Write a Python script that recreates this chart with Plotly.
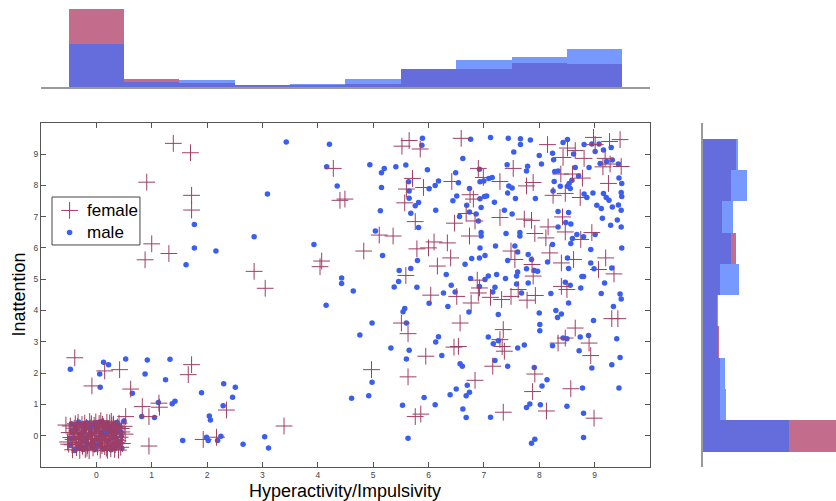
import plotly.graph_objects as go

# ---------------- data ----------------
female_x = [1.39, 1.70, 0.91, 1.72, 1.72, 1.00, 0.88, 1.31, 2.85, 3.05, 4.07, 4.04,
            -0.39, -0.08, 0.15, 0.42, 0.62, 1.66, 1.72, 0.83, 0.95, 1.14, 1.13, 0.95, 0.53, 2.35, 1.93, 2.17, 3.39,
            4.28, 4.40, 4.49,
            5.65, 5.52, 5.85, 6.59, 6.90, 6.99, 5.71, 5.60, 5.91, 6.42, 5.57, 6.75, 6.81, 6.68, 6.47, 6.84, 5.76, 5.11, 5.36, 6.74,
            8.15, 8.51, 8.65, 8.98, 9.01, 9.27, 9.46, 8.43, 8.81, 9.19, 9.15, 9.28, 9.48, 7.53, 7.29, 7.77, 7.89, 8.39, 8.60, 8.78,
            8.25, 8.47, 8.74, 9.25, 7.29, 7.73, 7.86, 8.42, 8.16, 8.47, 7.92, 8.95,
            4.83, 5.79, 6.00, 6.10, 6.34, 6.40, 6.16, 5.59, 6.88, 6.92, 6.90, 6.51, 6.04, 6.77, 7.12, 6.57, 5.51, 5.63, 6.46, 6.54,
            8.12, 8.75, 7.49, 7.56, 7.87, 8.19, 8.40, 8.62, 9.20, 9.07, 9.35, 7.89, 7.62, 7.49, 7.32, 7.78, 7.93, 8.40, 8.50,
            7.35, 7.29, 7.33, 8.65, 8.47, 8.34, 8.90, 9.31, 9.42,
            4.97, 5.95, 5.63, 7.16, 7.37, 6.84, 7.92, 7.88, 8.57, 8.93, 8.99, 8.13, 7.35, 5.76, 5.86]
female_y = [9.34, 9.04, 8.10, 7.68, 7.21, 6.13, 5.62, 5.82, 5.25, 4.71, 5.58, 5.40,
            2.49, 1.59, 2.07, 2.11, 1.49, 1.95, 2.27, 0.93, 0.61, 0.91, 1.04, -0.33, 0.61, 0.82, -0.12, -0.05, 0.31,
            8.54, 7.52, 7.56,
            9.43, 9.25, 9.16, 9.50, 8.54, 8.25, 8.22, 7.88, 7.93, 8.12, 7.44, 7.70, 7.56, 7.10, 6.79, 6.86, 6.84, 6.41, 6.38, 6.38,
            9.30, 9.19, 9.11, 9.53, 9.30, 9.40, 9.46, 8.89, 8.86, 8.86, 8.59, 8.68, 8.60, 8.54, 8.12, 7.98, 8.09, 8.36, 8.36, 8.23,
            7.68, 7.74, 7.61, 8.06, 6.97, 6.92, 6.88, 6.99, 6.67, 6.51, 6.46, 6.49,
            5.90, 5.97, 6.00, 6.19, 6.16, 5.68, 5.42, 5.12, 4.97, 4.72, 4.56, 4.45, 4.49, 4.24, 4.42, 3.60, 3.60, 3.26, 2.83, 2.85,
            6.32, 6.27, 5.90, 5.63, 5.47, 5.84, 5.52, 5.63, 5.68, 5.31, 5.17, 5.10, 4.67, 4.45, 4.35, 4.33, 4.48, 4.77, 4.67,
            3.39, 3.07, 2.85, 3.44, 3.12, 2.96, 2.96, 3.74, 3.74,
            2.11, 2.54, 1.88, 2.22, 2.70, 1.77, 1.97, 1.41, 1.50, 2.56, 0.56, 0.79, 0.75, 0.61, 0.69]

female_cluster_x = [-0.47, -0.42, -0.39, -0.36, -0.33, -0.31, -0.28, -0.26, -0.24, -0.22,
                    -0.20, -0.18, -0.16, -0.14, -0.12, -0.10, -0.08, -0.06, -0.04, -0.02,
                    0.00, 0.03, 0.05, 0.07, 0.09, 0.11, 0.13, 0.15, 0.17, 0.19,
                    0.21, 0.23, 0.26, 0.28, 0.30, 0.32, 0.34, 0.37, 0.39, 0.41,
                    0.44, 0.46, -0.44, -0.40, -0.37, -0.30, -0.27, -0.21, -0.15, -0.11,
                    -0.07, -0.01, 0.04, 0.10, 0.16, 0.22, 0.27, 0.33, 0.38, 0.43,
                    -0.49, -0.43, -0.34, -0.25, -0.19, -0.09, -0.03, 0.06, 0.12, 0.20,
                    0.25, 0.31, 0.36, 0.47, -0.52, 0.50, -0.13, 0.08, -0.35, 0.18,
                    -0.46, -0.32, -0.23, -0.17, -0.04, 0.02, 0.11, 0.19, 0.29, 0.40,
                    0.45, -0.38, -0.29, -0.10, 0.07, 0.24, 0.35, -0.55, -0.50, 0.52]
female_cluster_y = [0.31, -0.12, 0.05, -0.38, 0.42, 0.18, -0.22, 0.36, -0.05, 0.11,
                    -0.44, 0.27, -0.31, 0.02, 0.45, -0.17, 0.20, -0.39, 0.33, -0.08,
                    0.14, -0.26, 0.39, -0.46, 0.07, -0.14, 0.29, -0.35, 0.01, 0.43,
                    -0.21, 0.16, -0.42, 0.34, -0.03, 0.22, -0.29, 0.09, -0.16, 0.40,
                    -0.37, 0.12, -0.29, 0.24, -0.02, -0.47, 0.07, 0.40, -0.23, 0.25,
                    -0.12, 0.44, 0.05, -0.32, 0.18, -0.09, 0.46, -0.44, 0.28, -0.05,
                    0.10, -0.45, 0.29, -0.34, 0.08, 0.38, -0.27, 0.24, -0.02, -0.47,
                    0.05, 0.37, -0.22, -0.25, -0.20, 0.30, -0.48, 0.48, 0.15, -0.40,
                    -0.06, -0.14, 0.21, -0.40, 0.08, -0.36, 0.36, -0.27, 0.14, -0.46,
                    0.23, 0.38, -0.09, -0.01, -0.15, 0.41, -0.12, 0.34, -0.27, 0.05]

male_x = [3.43, 4.21, 4.16, 3.09, 1.77, 1.77, 1.62, 2.16, 2.85, 3.93, 4.15,
          -0.47, 0.13, 0.22, 0.06, 0.07, 0.53, 0.92, 1.33, 0.88, 1.25, 0.65, 1.12, 1.37, 1.42, 0.82, 1.05,
          1.90, 2.30, 2.51, 2.46, 2.29, 2.04, 2.06, 1.56, 1.99, 2.02, 2.19, 2.25, 2.65, 3.04, 3.11, 0.50,
          4.35,
          5.89, 5.88, 6.76, 7.12, 6.62, 4.94, 5.20, 5.15, 5.41, 5.59, 5.98, 6.49, 6.92, 5.64, 6.18, 6.12,
          6.01, 6.54, 5.15, 5.65, 5.65, 6.93, 7.00, 7.09, 7.15, 6.74, 6.51, 6.44, 5.82, 5.76, 6.93, 7.01,
          7.05, 7.19, 6.69, 6.95, 5.13, 5.68, 6.13, 6.56, 6.74, 6.86, 6.90, 5.04, 5.82, 6.95, 6.95,
          7.44, 7.66, 7.66, 7.84, 7.54, 8.43, 8.51, 8.81, 8.95, 9.08, 9.16, 9.30, 8.00, 8.24, 8.26, 8.62,
          9.01, 9.10, 9.22, 9.32, 9.43, 7.42, 7.79, 8.04, 8.65, 8.90, 7.77, 8.28, 8.34, 8.71, 9.44, 9.49,
          8.27, 8.59, 8.54, 8.51, 8.38, 7.45, 7.51, 7.43, 7.57, 7.93, 8.25, 8.56, 8.81, 8.86, 8.97, 9.16,
          9.21, 9.26, 9.48, 9.49, 9.04, 9.12, 9.32, 9.43, 9.48, 7.37, 7.51, 8.34, 8.53, 9.14, 9.41, 9.29,
          9.48, 8.48, 8.57, 8.34, 7.40, 7.65, 7.65, 8.68, 8.80, 9.01,
          5.17, 5.80, 5.68, 5.47, 5.46, 5.38, 5.79, 4.43, 4.43, 4.64, 6.32, 6.41, 6.48, 6.27, 6.01, 6.35,
          6.93, 7.21, 6.78, 6.92, 7.02, 6.66, 6.76, 7.02, 7.08, 7.23, 7.20, 7.16, 6.92, 6.73, 7.26, 5.57,
          5.54, 5.60, 4.98, 4.76, 6.18, 6.13, 7.08, 7.17, 7.26, 5.32,
          8.60, 8.57, 8.24, 8.93, 9.49, 7.56, 7.61, 7.80, 7.86, 7.43, 8.15, 8.51, 8.53, 8.93, 8.99, 9.31,
          7.77, 7.91, 7.97, 7.61, 7.59, 7.39, 7.80, 7.59, 8.77, 8.80, 8.75, 9.18, 8.47, 8.56, 7.68, 8.21,
          9.12, 9.46, 9.48, 8.53, 9.34, 8.00, 8.30, 8.40, 8.33, 8.98, 8.01, 8.01, 8.74, 8.89, 8.43, 8.50,
          9.40, 7.73, 8.24, 7.61,
          5.65, 5.60, 6.24, 6.57, 6.61, 7.20, 7.43, 8.72, 7.91, 8.95, 9.31, 9.46, 4.98, 4.61, 4.92, 5.53,
          5.92, 6.12, 6.39, 6.50, 6.70, 6.74, 6.68, 6.62, 6.68, 7.12, 8.05, 8.14, 7.77, 7.83, 8.02, 8.50,
          8.78, 8.80, 9.44, 5.63, 7.86, 7.92, 8.80]
male_y = [9.38, 9.31, 8.59, 7.72, 6.75, 6.00, 5.46, 5.90, 6.36, 6.11, 4.17,
          2.12, 2.35, 2.27, 1.97, 1.55, 2.45, 2.42, 2.44, 1.97, 1.79, 1.36, 1.06, 1.02, 1.10, 0.61, 0.58,
          1.37, 1.66, 1.55, 1.23, 0.96, 0.63, 0.50, -0.15, -0.05, -0.15, -0.15, -0.02, -0.27, -0.03, -0.39, 0.47,
          7.98,
          9.50, 9.28, 9.47, 9.53, 8.86, 8.66, 8.54, 8.40, 8.59, 8.65, 8.50, 8.40, 8.51, 8.11, 8.14, 7.99,
          7.89, 8.08, 7.93, 7.82, 7.59, 8.11, 8.14, 8.22, 8.25, 7.90, 7.66, 7.51, 7.45, 7.35, 7.57, 7.64,
          7.66, 7.46, 7.36, 7.29, 7.19, 7.11, 7.20, 7.00, 7.15, 7.08, 6.86, 6.54, 6.65, 6.49, 6.38,
          9.50, 9.49, 9.30, 9.45, 9.06, 9.37, 9.46, 9.30, 9.32, 9.32, 9.13, 9.21, 8.95, 9.02, 8.82, 9.00,
          9.08, 8.70, 8.76, 8.81, 8.68, 8.66, 8.61, 8.68, 8.57, 8.57, 8.46, 8.44, 8.46, 8.30, 8.23, 8.06,
          8.12, 8.16, 8.06, 7.97, 7.97, 7.98, 7.91, 7.75, 7.58, 7.58, 7.82, 7.90, 7.72, 7.61, 7.75, 7.74,
          7.61, 7.52, 7.77, 7.64, 7.36, 7.26, 7.31, 7.37, 7.20, 7.20, 7.08, 7.16, 7.13, 6.95, 6.89, 6.72,
          6.67, 6.81, 6.76, 6.67, 6.46, 6.49, 6.38, 6.43, 6.36, 6.43,
          5.76, 5.60, 5.34, 5.28, 4.93, 4.75, 4.74, 5.04, 4.86, 4.62, 5.15, 4.81, 4.59, 4.56, 4.23, 4.13,
          6.00, 6.06, 5.66, 5.68, 5.76, 5.48, 5.02, 4.99, 5.10, 5.15, 4.74, 4.59, 4.77, 3.95, 3.87, 4.06,
          3.96, 3.60, 3.60, 3.22, 3.16, 2.99, 3.15, 2.94, 3.03, 2.80,
          6.30, 6.14, 6.11, 5.95, 6.00, 6.06, 5.87, 5.79, 5.63, 5.60, 5.55, 5.68, 5.34, 5.52, 5.33, 5.36,
          5.33, 5.28, 5.25, 5.23, 5.10, 5.02, 4.88, 4.85, 5.09, 5.09, 4.72, 4.88, 4.90, 4.81, 4.56, 4.54,
          4.54, 4.53, 4.37, 4.24, 4.13, 3.92, 4.00, 3.89, 3.78, 3.68, 3.55, 3.35, 3.15, 3.20, 3.12, 3.10,
          3.10, 2.90, 2.87, 2.80,
          2.73, 2.45, 2.56, 2.30, 2.22, 2.40, 2.22, 2.71, 2.18, 2.16, 2.27, 2.50, 1.71, 1.20, 1.28, 0.97,
          1.22, 0.99, 1.31, 1.49, 1.61, 1.39, 1.28, 0.85, 0.58, 0.59, 1.59, 1.79, 0.90, 1.01, 0.99, 0.94,
          1.52, 0.72, 1.52, -0.08, -0.24, -0.11, -0.06]

male_cluster_x = [-0.45, -0.41, -0.37, -0.34, -0.30, -0.27, -0.25, -0.23, -0.20, -0.17,
                  -0.15, -0.13, -0.10, -0.08, -0.05, -0.03, 0.00, 0.02, 0.04, 0.07,
                  0.09, 0.11, 0.14, 0.16, 0.18, 0.20, 0.22, 0.25, 0.27, 0.29,
                  0.31, 0.34, 0.36, 0.38, 0.41, 0.43, 0.45, -0.47, -0.43, -0.39,
                  -0.32, -0.28, -0.22, -0.18, -0.12, -0.07, -0.01, 0.05, 0.10, 0.15,
                  0.21, 0.26, 0.32, 0.37, 0.42, -0.44, -0.35, -0.26, -0.16, -0.06,
                  0.03, 0.12, 0.23, 0.33, 0.44, -0.48, -0.38, -0.24, -0.11, 0.06,
                  0.17, 0.28, 0.39, 0.46, -0.29, 0.01, 0.13, -0.19, 0.35, -0.02]
male_cluster_y = [0.38, -0.08, 0.20, -0.41, 0.03, 0.32, -0.19, 0.12, -0.36, 0.41,
                  -0.02, 0.24, -0.27, 0.06, 0.35, -0.44, 0.17, -0.13, 0.43, -0.30,
                  0.10, -0.06, 0.31, -0.39, 0.04, 0.38, -0.18, 0.21, -0.45, 0.08,
                  -0.25, 0.33, -0.10, 0.15, -0.33, 0.27, -0.02, -0.28, 0.09, -0.47,
                  0.44, -0.12, 0.28, -0.23, 0.01, -0.38, 0.29, -0.21, 0.45, -0.11,
                  0.14, -0.34, 0.02, 0.42, -0.19, 0.18, -0.26, 0.05, 0.37, -0.15,
                  0.25, -0.43, 0.30, -0.38, 0.12, -0.10, 0.30, -0.44, 0.16, -0.03,
                  0.22, -0.07, 0.36, -0.40, -0.33, 0.40, 0.07, -0.08, 0.19, -0.30]

# marginal histograms (probability per unit-width bin, bins centred on 0..9)
bin_centers = [0, 1, 2, 3, 4, 5, 6, 7, 8, 9]
hist_x_female = [0.433, 0.043, 0.024, 0.009, 0.013, 0.019, 0.099, 0.099, 0.132, 0.129]
hist_x_male = [0.241, 0.030, 0.037, 0.009, 0.019, 0.043, 0.098, 0.148, 0.165, 0.210]
hist_y_female = [0.421, 0.050, 0.050, 0.048, 0.042, 0.052, 0.098, 0.057, 0.083, 0.099]
hist_y_male = [0.259, 0.068, 0.065, 0.045, 0.046, 0.107, 0.083, 0.090, 0.132, 0.105]

tick_vals = [0, 1, 2, 3, 4, 5, 6, 7, 8, 9]
tick_text = ["0", "1", "2", "3", "4", "5", "6", "7", "8", "9"]

legend_labels = ["female", "male"]

# ---------------- styles ----------------
FONT = "Arial, 'Liberation Sans', sans-serif"
FEMALE_MARK = "rgb(158,62,100)"
MALE_MARK = "rgb(58,95,240)"
FEMALE_BAR = "rgb(196,108,140)"
MALE_BAR = "rgba(61,109,255,0.7)"
FEMALE_MARKER = dict(symbol="cross-thin-open", size=12, color=FEMALE_MARK, line=dict(width=1, color=FEMALE_MARK))
MALE_MARKER = dict(symbol="circle", size=5.5, color=MALE_MARK, line=dict(width=0))

fig = go.Figure()

# scatter
fig.add_trace(go.Scatter(x=male_cluster_x + male_x, y=male_cluster_y + male_y, mode="markers",
                         name=legend_labels[1], marker=MALE_MARKER, showlegend=False, xaxis="x", yaxis="y"))
fig.add_trace(go.Scatter(x=female_cluster_x + female_x, y=female_cluster_y + female_y, mode="markers",
                         name=legend_labels[0], marker=FEMALE_MARKER, showlegend=False, xaxis="x", yaxis="y"))

# top histogram
fig.add_trace(go.Bar(x=bin_centers, y=hist_x_female, width=1, marker=dict(color=FEMALE_BAR, line=dict(width=0)),
                     showlegend=False, xaxis="x2", yaxis="y2"))
fig.add_trace(go.Bar(x=bin_centers, y=hist_x_male, width=1, marker=dict(color=MALE_BAR, line=dict(width=0)),
                     showlegend=False, xaxis="x2", yaxis="y2"))
# right histogram
fig.add_trace(go.Bar(y=bin_centers, x=hist_y_female, width=1, orientation="h",
                     marker=dict(color=FEMALE_BAR, line=dict(width=0)),
                     showlegend=False, xaxis="x3", yaxis="y3"))
fig.add_trace(go.Bar(y=bin_centers, x=hist_y_male, width=1, orientation="h",
                     marker=dict(color=MALE_BAR, line=dict(width=0)),
                     showlegend=False, xaxis="x3", yaxis="y3"))

# legend box (its own small axes): key symbols + labels
LEG_X_DOM = [0.01384, 0.1245]
LEG_Y_DOM = [0.4837, 0.5882]
fig.add_trace(go.Scatter(x=[0.2], y=[0.72], mode="markers", marker=FEMALE_MARKER, showlegend=False,
                         hoverinfo="skip", xaxis="x4", yaxis="y4"))
fig.add_trace(go.Scatter(x=[0.2], y=[0.26], mode="markers", marker=MALE_MARKER, showlegend=False,
                         hoverinfo="skip", xaxis="x4", yaxis="y4"))

main_ax = dict(range=[-1, 10], tickvals=tick_vals, ticktext=tick_text, ticks="inside", ticklen=5,
               tickcolor="#555", showline=True, linecolor="#555", linewidth=1, mirror="ticks",
               showgrid=False, zeroline=False, tickfont=dict(size=8.5, color="#444", family=FONT))

MAIN_X_DOM = [0, 0.766]
MAIN_Y_DOM = [0, 0.7501]

fig.update_layout(
    width=836, height=501,
    margin=dict(l=41, r=0, t=8, b=34),
    paper_bgcolor="white", plot_bgcolor="white",
    barmode="overlay", bargap=0,
    font=dict(family=FONT, color="black"),
    showlegend=False,
    xaxis=dict(domain=MAIN_X_DOM, anchor="y", **main_ax),
    yaxis=dict(domain=MAIN_Y_DOM, anchor="x", **main_ax),
    xaxis2=dict(domain=MAIN_X_DOM, anchor="y2", range=[-1, 10], showline=True, linecolor="#9a9a9a",
                linewidth=1.5, ticks="", showticklabels=False, showgrid=False, zeroline=False),
    yaxis2=dict(domain=[0.828, 1.0], anchor="x2", range=[0, 0.44], visible=False),
    xaxis3=dict(domain=[0.8323, 1.0], anchor="y3", range=[0, 0.40], visible=False),
    yaxis3=dict(domain=MAIN_Y_DOM, anchor="x3", range=[-1, 10], showline=True, linecolor="#9a9a9a",
                linewidth=1.5, ticks="", showticklabels=False, showgrid=False, zeroline=False),
    xaxis4=dict(domain=LEG_X_DOM, anchor="y4", range=[0, 1], visible=False, fixedrange=True),
    yaxis4=dict(domain=LEG_Y_DOM, anchor="x4", range=[0, 1], visible=False, fixedrange=True),
    shapes=[dict(type="rect", xref="paper", yref="paper", x0=LEG_X_DOM[0], x1=LEG_X_DOM[1],
                 y0=LEG_Y_DOM[0], y1=LEG_Y_DOM[1], line=dict(color="#444", width=1),
                 fillcolor="rgba(0,0,0,0)", layer="above")],
    annotations=[
        dict(text=legend_labels[0], xref="x4", yref="y4", x=0.37, y=0.71, xanchor="left", yanchor="middle",
             showarrow=False, font=dict(size=17, family=FONT)),
        dict(text=legend_labels[1], xref="x4", yref="y4", x=0.37, y=0.25, xanchor="left", yanchor="middle",
             showarrow=False, font=dict(size=17, family=FONT)),
        dict(text="Hyperactivity/Impulsivity", xref="paper", yref="paper", x=0.383, y=-0.0525,
             xanchor="center", yanchor="middle", showarrow=False, font=dict(size=18, family=FONT)),
        dict(text="Inattention", xref="paper", yref="paper", x=-0.028, y=0.375, textangle=-90,
             xanchor="center", yanchor="middle", showarrow=False, font=dict(size=18, family=FONT)),
    ],
)

fig.write_html("out.html", config={"displayModeBar": False},
               post_script="document.body.style.margin='0px';")
